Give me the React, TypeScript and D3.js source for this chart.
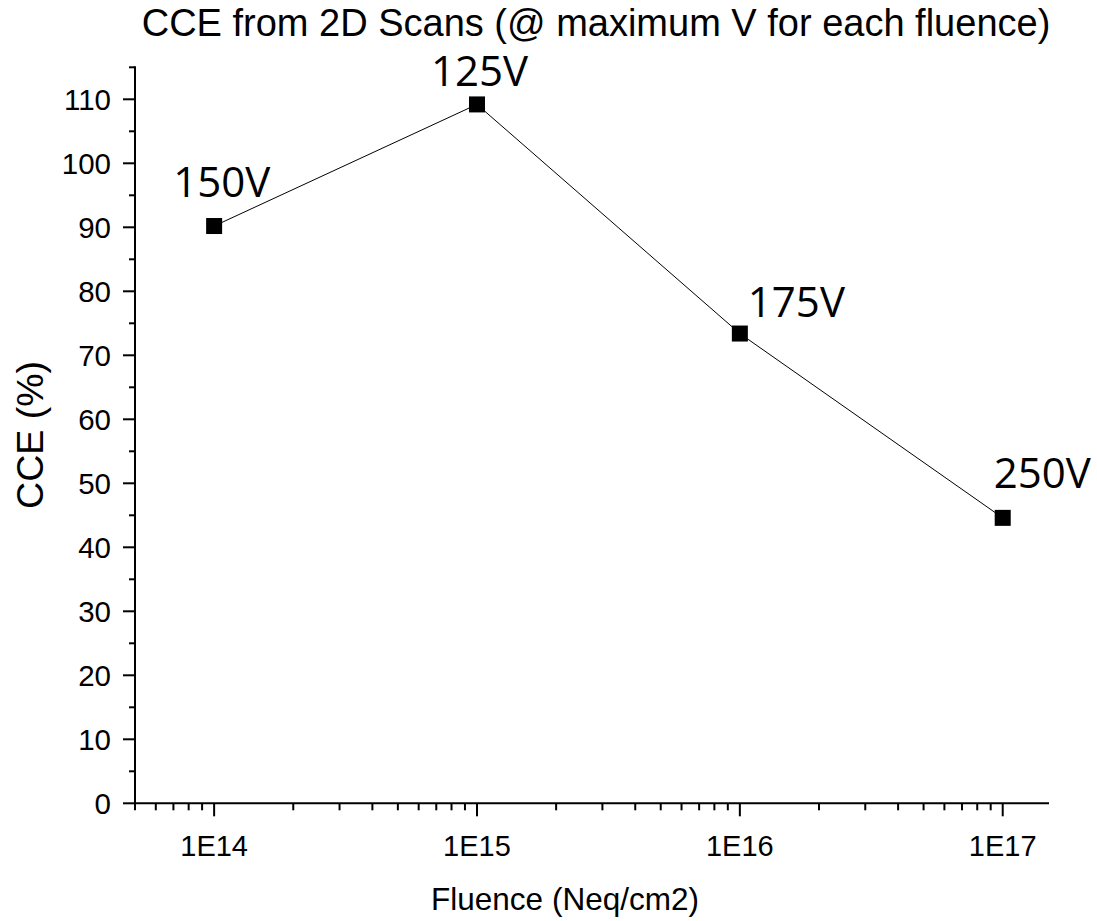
import React from "react";
import * as d3 from "d3";

// Fluence points (Neq/cm2) and the charge collection efficiency measured at each
const fluence = [1e14, 1e15, 1e16, 1e17];
const cce = [90.2, 109.2, 73.4, 44.6];
const biasLabels = ["150V", "125V", "175V", "250V"];
const majorFluenceTicks = [1e14, 1e15, 1e16, 1e17];
const fluenceTickLabels = ["1E14", "1E15", "1E16", "1E17"];
const cceTicks = [0, 10, 20, 30, 40, 50, 60, 70, 80, 90, 100, 110];

// Offset of each bias label (start, baseline) from its marker
const labelOffsets: [number, number][] = [
  [-41, -29],
  [-46, -18],
  [8, -17],
  [-9, -30],
];

const W = 1097;
const H = 921;
const left = 135;
const right = 1049;
const top = 67.3;
const bottom = 803.3;

export default function App() {
  const x = d3.scaleLog().domain([5e13, 1.5e17]).range([left, right]);
  const y = d3.scaleLinear().domain([0, 115]).range([bottom, top]);

  // minor ticks 2..9 within each decade, inside the domain
  const minorX: number[] = [];
  for (let e = 13; e <= 17; e++) {
    for (let m = 2; m <= 9; m++) {
      const v = m * Math.pow(10, e);
      if (v >= 5e13 && v <= 1.5e17) minorX.push(v);
    }
  }
  const minorY = d3.range(5, 120, 10);

  const line = d3
    .line<number>()
    .x((_, i) => x(fluence[i]))
    .y((d) => y(d));

  const axisFont = "'Liberation Sans', Arial, sans-serif";
  const ms = 16;

  return (
    <svg width={W} height={H} style={{ display: "block", position: "absolute", left: 0, top: 0 }}>
      <rect width={W} height={H} fill="#fff" />
      <text x={596} y={36} textAnchor="middle" fontFamily={axisFont} fontSize={38} fill="#000">
        CCE from 2D Scans (@ maximum V for each fluence)
      </text>

      {/* y axis */}
      <line x1={left} x2={left} y1={top - 1} y2={bottom + 1} stroke="#000" strokeWidth={2} />
      {cceTicks.map((t) => (
        <g key={"yt" + t}>
          <line x1={left - 12} x2={left} y1={y(t)} y2={y(t)} stroke="#000" strokeWidth={2} />
          <text
            x={left - 24}
            y={y(t)}
            dy="0.36em"
            textAnchor="end"
            fontFamily={axisFont}
            fontSize={29.5}
            fill="#000"
          >
            {t}
          </text>
        </g>
      ))}
      {minorY.map((t) => (
        <line key={"ym" + t} x1={left - 6} x2={left} y1={y(t)} y2={y(t)} stroke="#000" strokeWidth={2} />
      ))}
      <text
        transform={`translate(43,435) rotate(-90)`}
        textAnchor="middle"
        fontFamily={axisFont}
        fontSize={37.5}
        fill="#000"
      >
        CCE (%)
      </text>

      {/* x axis */}
      <line x1={left - 1} x2={right} y1={bottom} y2={bottom} stroke="#000" strokeWidth={2} />
      {minorX.map((t) => (
        <line key={"xm" + t} x1={x(t)} x2={x(t)} y1={bottom} y2={bottom + 7} stroke="#000" strokeWidth={2} />
      ))}
      {majorFluenceTicks.map((t, i) => (
        <g key={"xt" + t}>
          <line x1={x(t)} x2={x(t)} y1={bottom} y2={bottom + 13} stroke="#000" strokeWidth={2} />
          <text x={x(t)} y={856} textAnchor="middle" fontFamily={axisFont} fontSize={29} fill="#000">
            {fluenceTickLabels[i]}
          </text>
        </g>
      ))}
      <text x={565} y={910} textAnchor="middle" fontFamily={axisFont} fontSize={31.5} fill="#000">
        Fluence (Neq/cm2)
      </text>

      {/* data */}
      <path d={line(cce) ?? ""} fill="none" stroke="#000" strokeWidth={1} />
      {cce.map((v, i) => (
        <rect
          key={"pt" + i}
          x={x(fluence[i]) - ms / 2}
          y={y(v) - ms / 2}
          width={ms}
          height={ms}
          fill="#000"
        />
      ))}
      {cce.map((v, i) => (
        <text
          key={"lb" + i}
          x={x(fluence[i]) + labelOffsets[i][0]}
          y={y(v) + labelOffsets[i][1]}
          fontFamily="'Open Sans', sans-serif"
          fontSize={42}
          fill="#000"
        >
          {biasLabels[i]}
        </text>
      ))}
    </svg>
  );
}
